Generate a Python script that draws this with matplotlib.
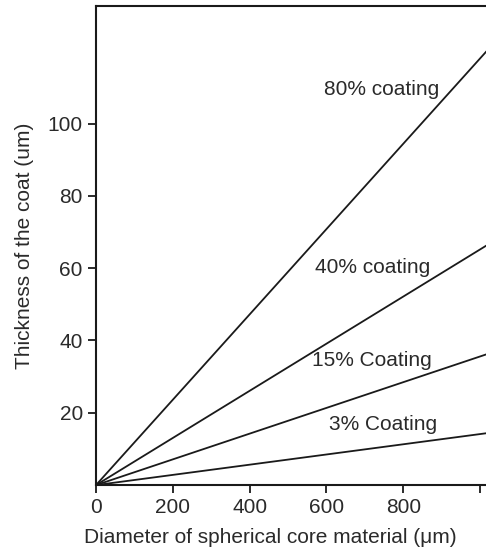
import matplotlib
matplotlib.use("Agg")
import matplotlib.pyplot as plt

plt.rcParams["font.family"] = ["Liberation Sans", "DejaVu Sans"]

# core diameter (um) at the two ends of each straight line
diameter = [0, 1020]
coat_80 = [0, 120.4]
coat_40 = [0, 66.5]
coat_15 = [0, 36.3]
coat_3 = [0, 14.4]

series = [
    (coat_80, "80% coating", (743, 109.5)),
    (coat_40, "40% coating", (721, 60.3)),
    (coat_15, "15% Coating", (719, 34.6)),
    (coat_3, "3% Coating", (747, 16.7)),
]

x_ticks = [0, 200, 400, 600, 800, 1000]
x_labels = ["0", "200", "400", "600", "800", ""]
y_ticks = [20, 40, 60, 80, 100]

fig = plt.figure(figsize=(4.86, 5.5), dpi=100)
ax = fig.add_axes([0.1975, 0.118, 0.83, 0.871])

for ys, label, (tx, ty) in series:
    ax.plot(diameter, ys, color="#1a1a1a", linewidth=1.3)
    ax.text(tx, ty, label, fontsize=15, color="#2a2a2a", ha="center", va="center")

ax.set_xlim(0, 1050)
ax.set_ylim(0, 132.5)
ax.set_xticks(x_ticks)
ax.set_xticklabels(x_labels)
ax.set_yticks(y_ticks)
ax.tick_params(direction="out", length=6, width=1.3, labelsize=15,
               colors="#1a1a1a", labelcolor="#2a2a2a")
for side in ("left", "top", "bottom"):
    ax.spines[side].set_linewidth(1.5)
    ax.spines[side].set_color("#1a1a1a")
ax.spines["right"].set_visible(False)

ax.set_xlabel("Diameter of spherical core material (\u03bcm)", fontsize=15,
              color="#2a2a2a")
ax.xaxis.set_label_coords(0.432, -0.09)
ax.set_ylabel("Thickness of the coat (um)", fontsize=15, color="#2a2a2a",
              labelpad=10)

fig.savefig("out.png", dpi=100)
